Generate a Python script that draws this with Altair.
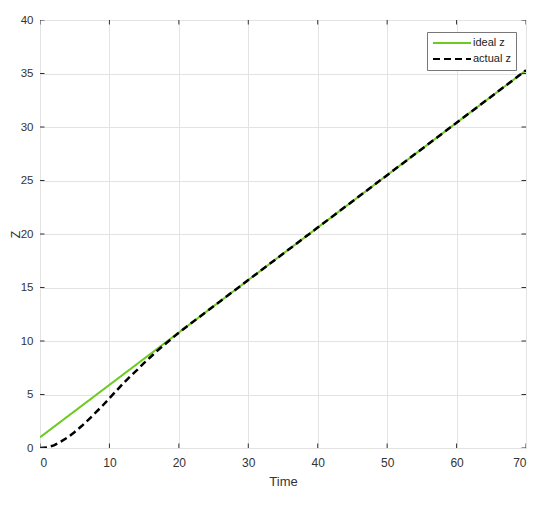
import altair as alt
import pandas as pd

# ---- data ----
ideal_t = [0, 70]
ideal_z = [1.0, 35.3]

actual_t = [0, 1, 2, 3, 4, 5, 6, 7, 8, 9, 10, 11, 12, 13, 14, 15, 16, 17, 18, 19, 20,
            25, 30, 40, 50, 60, 70]
actual_z = [0.0, 0.05, 0.25, 0.6, 1.0, 1.5, 2.05, 2.65, 3.3, 3.95, 4.65, 5.35, 6.05,
            6.7, 7.3, 7.95, 8.55, 9.15, 9.7, 10.25, 10.78, 13.25, 15.7, 20.6, 25.5,
            30.4, 35.3]

series_names = ["ideal z", "actual z"]
x_ticks = [0, 10, 20, 30, 40, 50, 60, 70]
y_ticks = [0, 5, 10, 15, 20, 25, 30, 35, 40]
x_range = [0, 70]
y_range = [0, 40]

df_ideal = pd.DataFrame({"t": ideal_t, "z": ideal_z, "series": series_names[0]})
df_actual = pd.DataFrame({"t": actual_t, "z": actual_z, "series": series_names[1]})

# tick-mark positions on the four box edges (MATLAB-style inward ticks)
df_xt = pd.DataFrame({"t": x_ticks * 2,
                      "z": [y_range[0]] * len(x_ticks) + [y_range[1]] * len(x_ticks)})
df_yt = pd.DataFrame({"t": [x_range[0]] * len(y_ticks) + [x_range[1]] * len(y_ticks),
                      "z": y_ticks * 2})

W, H = 486, 428
GREEN = "#6BCB1F"
FONT = "Liberation Sans"
TXT = "#333333"

xs = alt.Scale(domain=x_range, nice=False, zero=False)
ys = alt.Scale(domain=y_range, nice=False, zero=False)

leg = dict(title=None, orient="none", legendX=387, legendY=12,
           symbolType="stroke", symbolSize=1444, symbolStrokeWidth=2,
           clipHeight=12, labelFontSize=11, labelFont=FONT, labelColor="#222",
           labelOffset=1, rowPadding=4, padding=5,
           strokeColor="#777777", fillColor="white")

color_enc = alt.Color(
    "series:N",
    scale=alt.Scale(domain=series_names, range=[GREEN, "#000000"]),
    legend=alt.Legend(**leg),
)
dash_enc = alt.StrokeDash(
    "series:N",
    scale=alt.Scale(domain=series_names, range=[[1, 0], [7, 4]]),
    legend=alt.Legend(**leg),
)

x_main = alt.X("t:Q", scale=xs, axis=alt.Axis(
    title="Time", values=x_ticks, ticks=False, domain=False, grid=True,
    labelPadding=9, titlePadding=7, labelFontSize=12, titleFontSize=13,
    labelFont=FONT, titleFont=FONT, labelColor=TXT, titleColor=TXT,
    titleFontWeight="normal", gridColor="#e3e3e3"))
y_main = alt.Y("z:Q", scale=ys, axis=alt.Axis(
    title="Z", values=y_ticks, ticks=False, domain=False, grid=True,
    labelPadding=7, titlePadding=-2, labelFontSize=11.5, titleFontSize=12,
    labelFont=FONT, titleFont=FONT, labelColor=TXT, titleColor=TXT,
    titleFontWeight="normal", gridColor="#e3e3e3"))

ideal_layer = alt.Chart(df_ideal).mark_line(strokeWidth=2, clip=True).encode(
    x=x_main, y=y_main, color=color_enc, strokeDash=dash_enc)

actual_layer = alt.Chart(df_actual).mark_line(strokeWidth=2.5, clip=True).encode(
    x=alt.X("t:Q", scale=xs), y=alt.Y("z:Q", scale=ys),
    color=color_enc, strokeDash=dash_enc)

xtick_layer = alt.Chart(df_xt).mark_tick(
    orient="vertical", size=9, thickness=1, color="#333333", clip=True, opacity=1
).encode(x=alt.X("t:Q", scale=xs), y=alt.Y("z:Q", scale=ys))

ytick_layer = alt.Chart(df_yt).mark_tick(
    orient="horizontal", size=9, thickness=1, color="#333333", clip=True, opacity=1
).encode(x=alt.X("t:Q", scale=xs), y=alt.Y("z:Q", scale=ys))

chart = alt.layer(ideal_layer, actual_layer, xtick_layer, ytick_layer).properties(
    width=W, height=H,
    autosize=alt.AutoSizeParams(type="none"),
    padding={"left": 32, "top": 12, "right": 16, "bottom": 45},
).configure_view(
    stroke="#4a4a4a", strokeWidth=1
).configure(background="white")

chart.save("out.html", embed_options={"renderer": "svg", "actions": False})
